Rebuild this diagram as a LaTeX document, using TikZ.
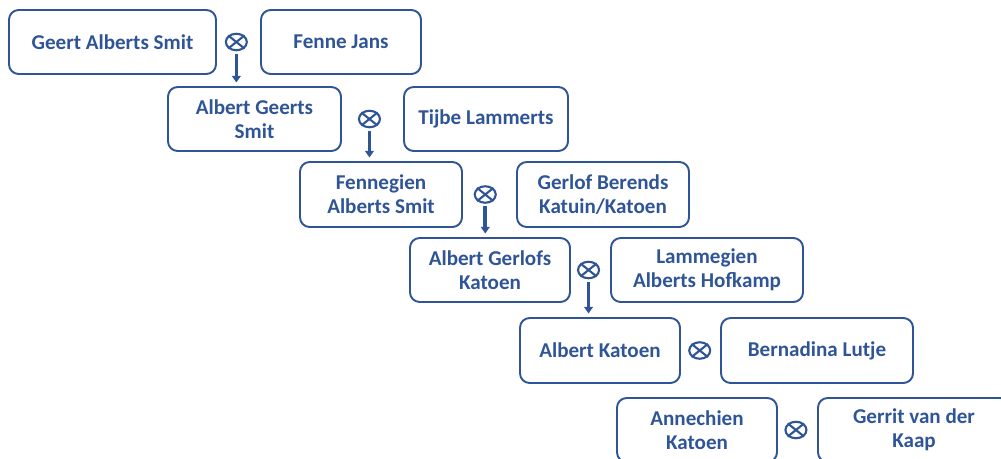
\documentclass[tikz,border=0pt]{standalone}
\usepackage{fontspec}
\setmainfont{Carlito}
\usetikzlibrary{shapes.geometric,arrows.meta,calc}
\definecolor{famblue}{RGB}{47,85,151}

\begin{document}
\begin{tikzpicture}[
  >=Latex,
  person/.style={draw=famblue, line width=1.1pt, rounded corners=5.5pt, text=famblue,
    font=\bfseries\fontsize{12}{13.6}\selectfont, align=center,
    minimum height=1.28cm, inner sep=2pt},
  marry/.style={draw=famblue, ellipse, line width=1.2pt,
    minimum width=0.42cm, minimum height=0.33cm, inner sep=0pt},
  descent/.style={draw=famblue, line width=2pt,
    -{Triangle[width=5pt,length=3.8pt]}, shorten <=1.5pt, shorten >=2pt}
]
  \clip (0,0) rectangle (20.02,-9.18);

  % generation 1
  \node[person, minimum width=4.14cm] (geert) at (2.25,-0.84) {Geert Alberts Smit};
  \node[person, minimum width=3.2cm]  (fenne) at (6.82,-0.84) {Fenne Jans};

  % generation 2
  \node[person, minimum width=3.46cm] (albertG) at (5.09,-2.38) {Albert Geerts\\Smit};
  \node[person, minimum width=3.28cm] (tijbe)   at (9.72,-2.38) {Tijbe Lammerts};

  % generation 3
  \node[person, minimum width=3.24cm, minimum height=1.3cm] (fennegien) at (7.62,-3.89) {Fennegien\\Alberts Smit};
  \node[person, minimum width=3.44cm, minimum height=1.3cm] (gerlof)    at (12.06,-3.89) {Gerlof Berends\\Katuin/Katoen};

  % generation 4
  \node[person, minimum width=3.2cm]  (albertGK) at (9.8,-5.4)   {Albert Gerlofs\\Katoen};
  \node[person, minimum width=3.84cm] (lammegien) at (14.14,-5.4) {Lammegien\\Alberts Hofkamp};

  % generation 5
  \node[person, minimum width=3.2cm, minimum height=1.3cm]  (albertK)   at (12.0,-7.01)  {Albert Katoen};
  \node[person, minimum width=3.84cm, minimum height=1.3cm] (bernadina) at (16.34,-7.01) {Bernadina Lutje};

  % generation 6
  \node[person, minimum width=3.2cm]  (annechien) at (13.94,-8.6) {Annechien\\Katoen};
  \node[person, minimum width=3.84cm] (gerrit)    at (18.28,-8.6) {Gerrit van der\\Kaap};

  % marriage signs
  \node[marry] (m1) at ($(geert.east)!0.45!(fenne.west)$) {};
  \node[marry] (m2) at ($(albertG.east)!0.45!(tijbe.west)$) {};
  \node[marry] (m3) at ($(fennegien.east)!0.42!(gerlof.west)$) {};
  \node[marry] (m4) at ($(albertGK.east)!0.45!(lammegien.west)$) {};
  \node[marry] (m5) at ($(albertK.east)!0.48!(bernadina.west)$) {};
  \node[marry] (m6) at ($(annechien.east)!0.46!(gerrit.west)$) {};
  \foreach \m in {m1,m2,m3,m4,m5,m6}
    \draw[famblue, line width=1.2pt] (\m.north west) -- (\m.south east)
      (\m.north east) -- (\m.south west);

  % descent
  \draw[descent] (m1.south) -- (m1.south |- albertG.north);
  \draw[descent] (m2.south) -- (m2.south |- fennegien.north);
  \draw[descent] (m3.south) -- (m3.south |- albertGK.north);
  \draw[descent] (m4.south) -- (m4.south |- albertK.north);
\end{tikzpicture}
\end{document}
